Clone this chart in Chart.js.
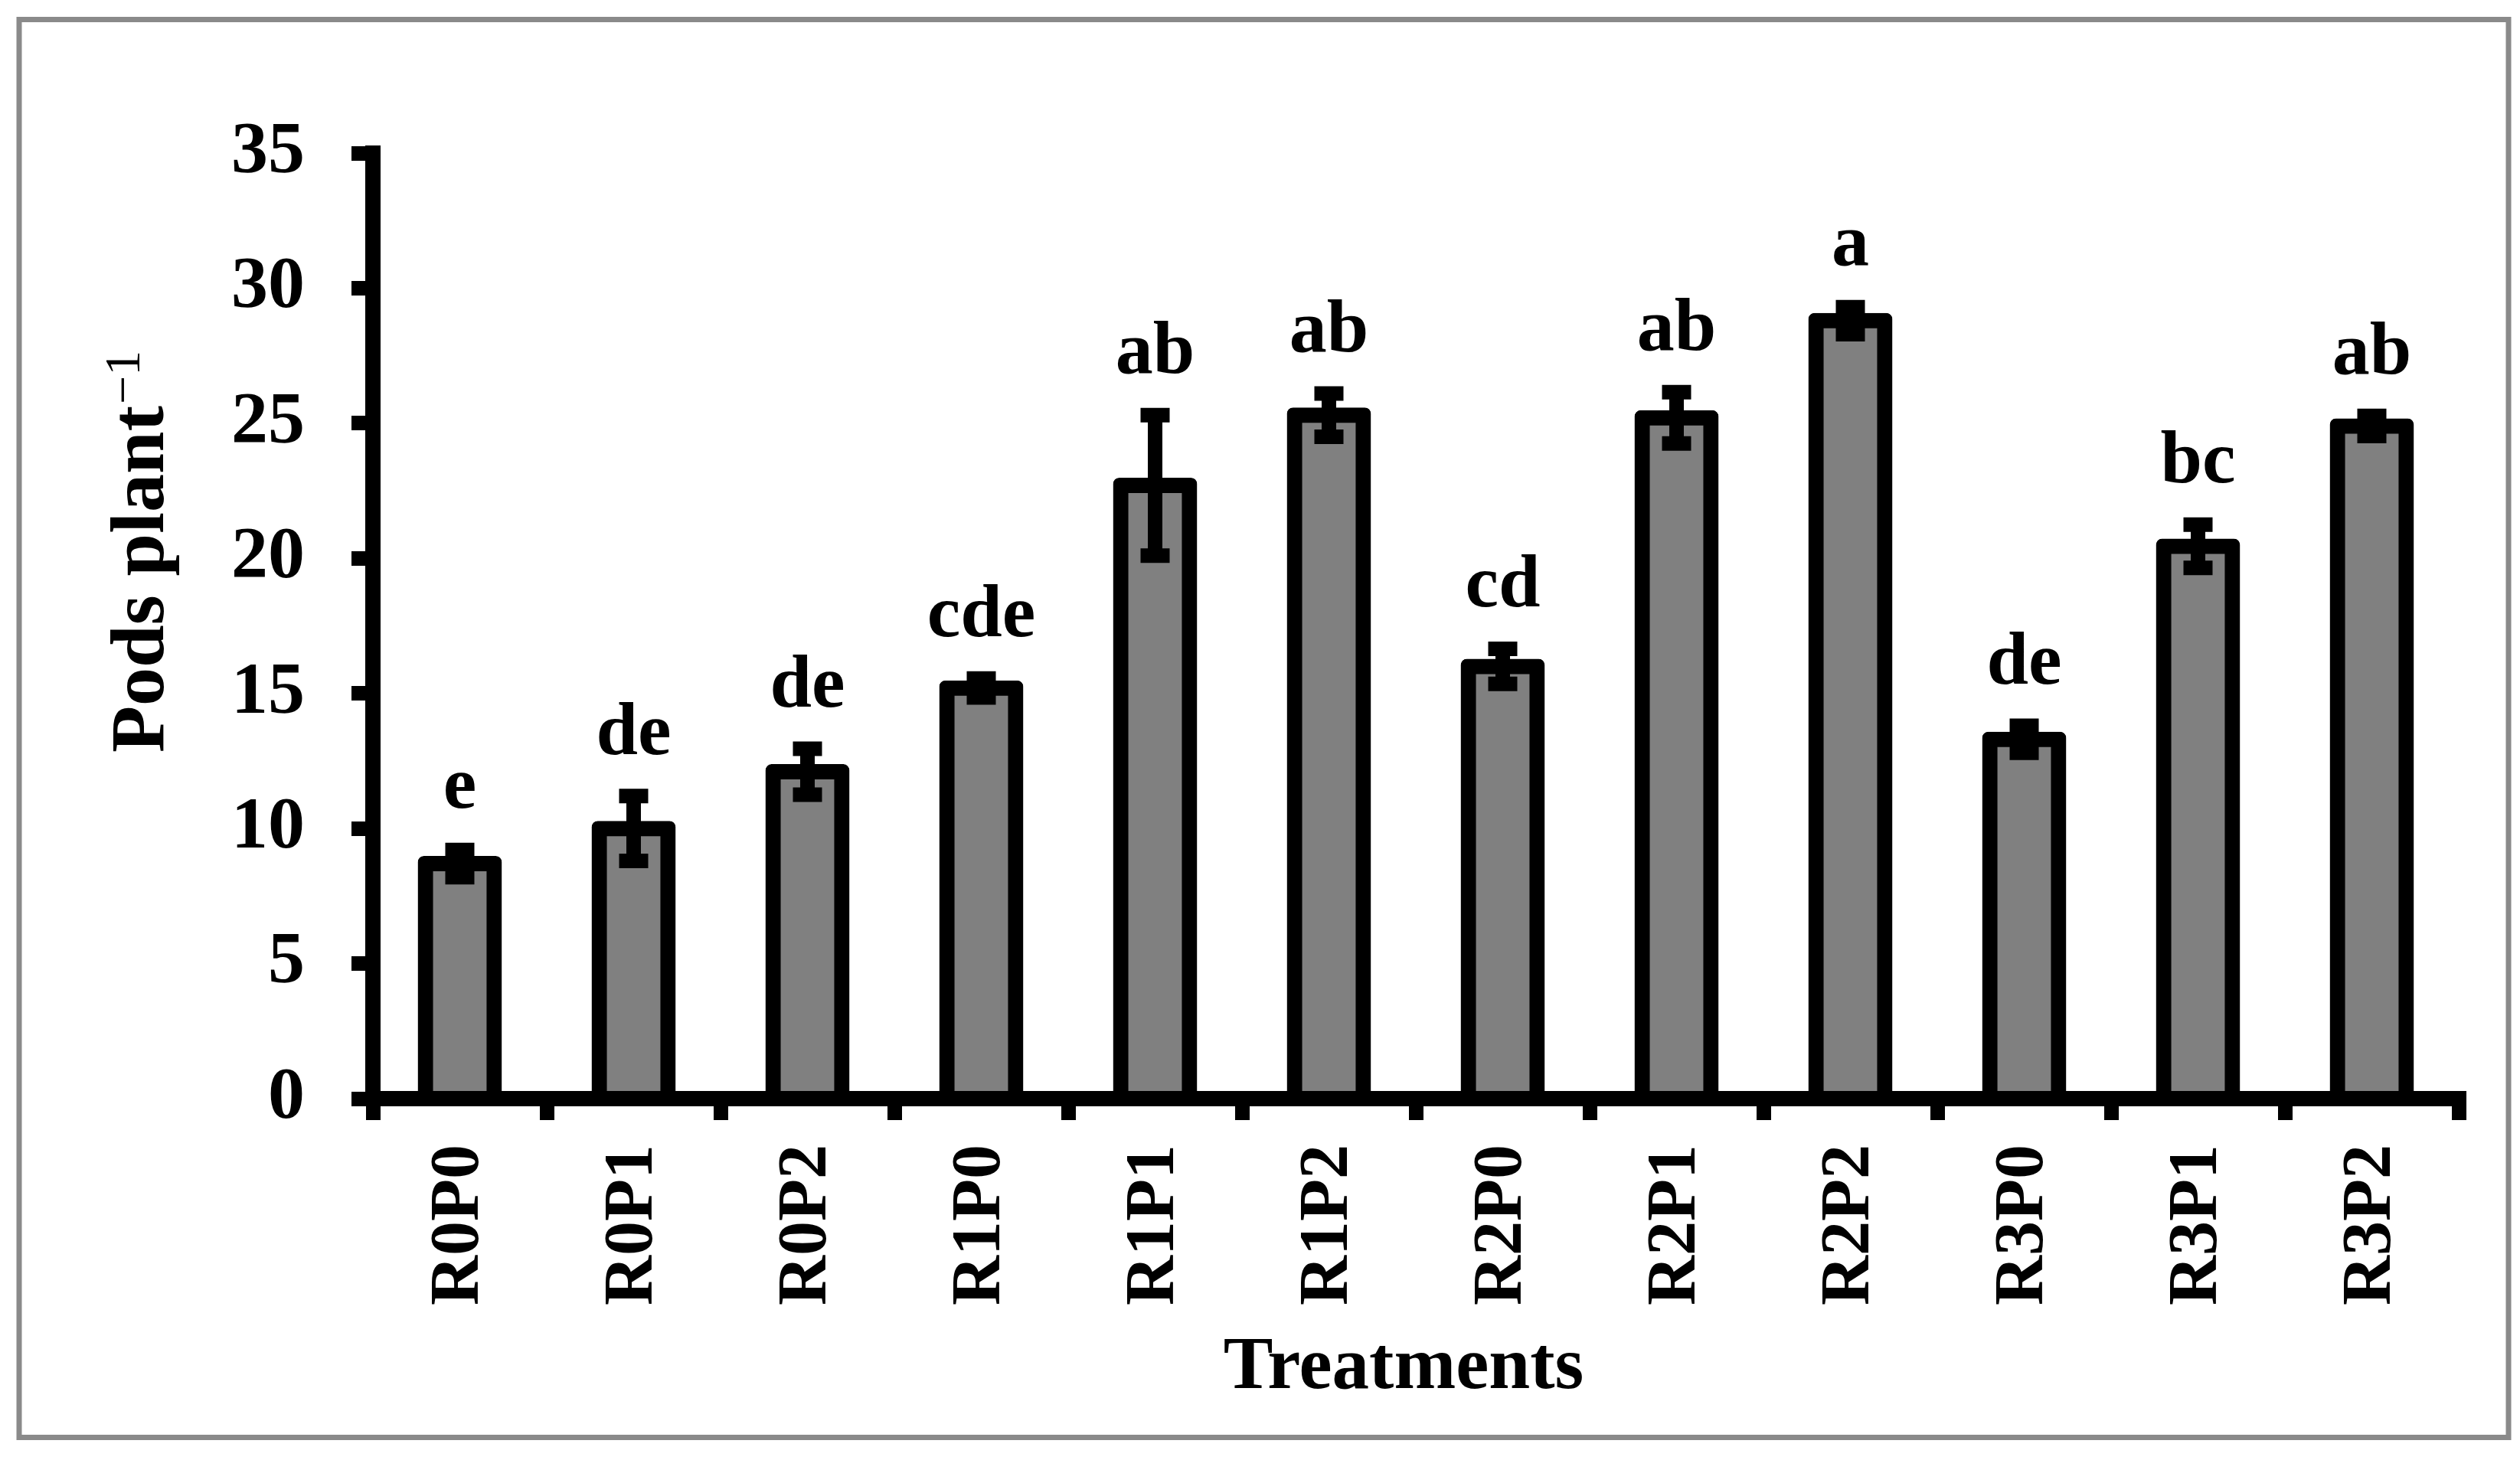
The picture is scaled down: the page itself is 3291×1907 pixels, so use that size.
<!DOCTYPE html>
<html>
<head>
<meta charset="utf-8">
<title>Pods plant-1 by treatment</title>
<script src="https://cdn.jsdelivr.net/npm/chart.js@4.4.1/dist/chart.umd.min.js"></script>
<style>
  html, body { margin: 0; padding: 0; background: #fff; }
  canvas { display: block; }
</style>
</head>
<body>
<canvas id="podsChart" width="3291" height="1907"></canvas>
<script>
const treatments = ['R0P0', 'R0P1', 'R0P2', 'R1P0', 'R1P1', 'R1P2', 'R2P0', 'R2P1', 'R2P2', 'R3P0', 'R3P1', 'R3P2'];
const podsPerPlant = [8.7, 10.0, 12.1, 15.2, 22.7, 25.3, 16.0, 25.2, 28.8, 13.3, 20.45, 24.9];
const podsError = [0.5, 1.2, 0.85, 0.35, 2.6, 0.8, 0.65, 0.95, 0.5, 0.5, 0.8, 0.37];
const groupLetters = ['e', 'de', 'de', 'cde', 'ab', 'ab', 'cd', 'ab', 'a', 'de', 'bc', 'ab'];
const yTicks = [0, 5, 10, 15, 20, 25, 30, 35];

const serif = '"Liberation Serif", "Times New Roman", serif';
Chart.defaults.font.family = serif;
Chart.defaults.color = '#000';

// white page, grey frame and the two axis titles
const frameAndTitles = {
    id: 'frameAndTitles',
    beforeDraw(chart) {
        const ctx = chart.ctx;
        ctx.save();
        ctx.fillStyle = '#fff';
        ctx.fillRect(0, 0, chart.width, chart.height);
        ctx.restore();
    },
    afterDraw(chart) {
        const ctx = chart.ctx;
        ctx.save();
        ctx.strokeStyle = '#8a8a8a';
        ctx.lineWidth = 7;
        ctx.strokeRect(25, 25.5, 3251, 1852);

        ctx.fillStyle = '#000';
        ctx.textBaseline = 'alphabetic';

        // y title with superscript
        ctx.save();
        ctx.translate(213, 983);
        ctx.rotate(-Math.PI / 2);
        ctx.textAlign = 'left';
        ctx.font = 'bold 100px ' + serif;
        ctx.fillText('Pods plant', 0, 0);
        const w = ctx.measureText('Pods plant').width;
        ctx.font = '66px ' + serif;
        ctx.fillText('\u22121', w + 2, -31);
        ctx.restore();

        // x title
        ctx.textAlign = 'center';
        ctx.font = 'bold 97px ' + serif;
        ctx.fillText('Treatments', 1833, 1813);
        ctx.restore();
    }
};

// error bars and significance letters
const errorBars = {
    id: 'errorBars',
    afterDatasetsDraw(chart) {
        const ctx = chart.ctx;
        const yScale = chart.scales.y;
        const meta = chart.getDatasetMeta(0);
        ctx.save();
        ctx.strokeStyle = '#000';
        ctx.fillStyle = '#000';
        ctx.lineWidth = 19;
        ctx.lineCap = 'butt';
        ctx.font = 'bold 98px ' + serif;
        ctx.textAlign = 'center';
        ctx.textBaseline = 'alphabetic';
        meta.data.forEach((bar, i) => {
            const x = bar.x;
            const top = yScale.getPixelForValue(podsPerPlant[i] + podsError[i]);
            const bot = yScale.getPixelForValue(podsPerPlant[i] - podsError[i]);
            ctx.beginPath();
            ctx.moveTo(x, top - 9.5);
            ctx.lineTo(x, bot + 9.5);
            ctx.moveTo(x - 19, top);
            ctx.lineTo(x + 19, top);
            ctx.moveTo(x - 19, bot);
            ctx.lineTo(x + 19, bot);
            ctx.stroke();
            ctx.fillText(groupLetters[i], x, top - 55);
        });
        ctx.restore();
    }
};

const ctx = document.getElementById('podsChart').getContext('2d');
new Chart(ctx, {
    type: 'bar',
    data: {
        labels: treatments,
        datasets: [{
            label: 'Pods plant-1',
            data: podsPerPlant,
            backgroundColor: '#808080',
            borderColor: '#000',
            borderWidth: 20,
            borderSkipped: 'start',
            inflateAmount: 10,
            borderRadius: { topLeft: 8, topRight: 8 },
            barPercentage: 0.396,
            categoryPercentage: 1
        }]
    },
    options: {
        responsive: false,
        animation: false,
        devicePixelRatio: 1,
        layout: { padding: { top: 200, right: 80, bottom: 0, left: 0 } },
        plugins: {
            legend: { display: false },
            tooltip: { enabled: false }
        },
        scales: {
            x: {
                offset: true,
                grid: { offset: true, drawOnChartArea: false, tickLength: 28, lineWidth: 19, color: '#000' },
                border: { color: '#000', width: 20, z: 1 },
                ticks: {
                    color: '#000',
                    font: { size: 90, weight: 'bold' },
                    padding: 32,
                    minRotation: 90,
                    maxRotation: 90,
                    autoSkip: false
                },
                afterFit(scale) { scale.height = 472; }
            },
            y: {
                min: 0,
                max: 35,
                afterBuildTicks(scale) { scale.ticks = yTicks.map(v => ({ value: v })); },
                grid: { drawOnChartArea: false, tickLength: 28, lineWidth: 19, color: '#000' },
                border: { color: '#000', width: 20, z: 1 },
                ticks: { color: '#000', font: { size: 96, weight: 'bold' }, padding: 61 },
                afterFit(scale) { scale.width = 487; }
            }
        }
    },
    plugins: [frameAndTitles, errorBars]
});
</script>
</body>
</html>
